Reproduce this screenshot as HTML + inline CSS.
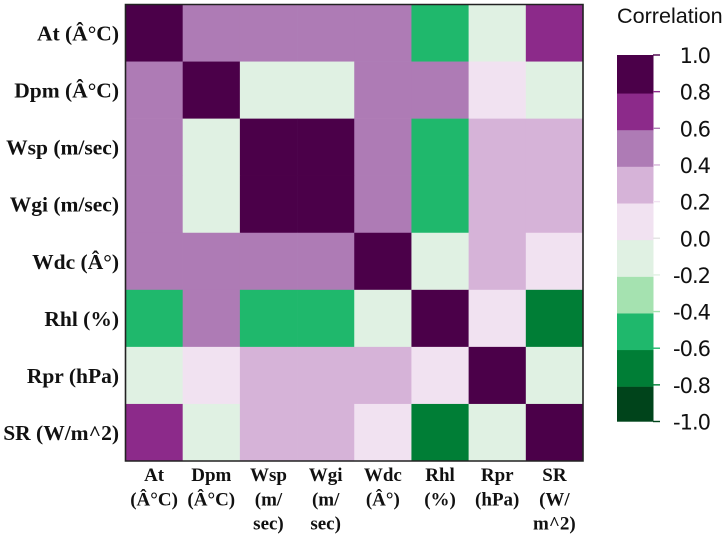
<!DOCTYPE html>
<html>
<head>
<meta charset="utf-8">
<title>Correlation heatmap</title>
<style>
html,body{margin:0;padding:0;background:#fff;width:726px;height:536px;overflow:hidden}
svg{display:block;filter:blur(.25px)}
.row-label{font:bold 21.5px "Liberation Serif",serif;fill:#111;text-anchor:end}
.col-label{font:bold 19px "Liberation Serif",serif;fill:#111;text-anchor:middle}
.bar-label{font:21px "DejaVu Sans","Liberation Sans",sans-serif;fill:#111;text-anchor:end;letter-spacing:-1px}
.bar-title{font:21.6px "Liberation Sans",sans-serif;fill:#111}
</style>
</head>
<body>
<svg id="chart" xmlns="http://www.w3.org/2000/svg" width="726" height="536" viewBox="0 0 726 536"></svg>
<script>
const rowLabels = ["At (Â°C)","Dpm (Â°C)","Wsp (m/sec)","Wgi (m/sec)","Wdc (Â°)","Rhl (%)","Rpr (hPa)","SR (W/m^2)"];
const colLabels = [["At","(Â°C)"],["Dpm","(Â°C)"],["Wsp","(m/","sec)"],["Wgi","(m/","sec)"],["Wdc","(Â°)"],["Rhl","(%)"],["Rpr","(hPa)"],["SR","(W/","m^2)"]];
const rowAt = [1,0.5,0.5,0.5,0.5,-0.5,-0.1,0.7];
const rowDpm = [0.5,1,-0.1,-0.1,0.5,0.5,0.1,-0.1];
const rowWsp = [0.5,-0.1,1,1,0.5,-0.5,0.3,0.3];
const rowWgi = [0.5,-0.1,1,1,0.5,-0.5,0.3,0.3];
const rowWdc = [0.5,0.5,0.5,0.5,1,-0.1,0.3,0.1];
const rowRhl = [-0.5,0.5,-0.5,-0.5,-0.1,1,0.1,-0.7];
const rowRpr = [-0.1,0.1,0.3,0.3,0.3,0.1,1,-0.1];
const rowSR = [0.7,-0.1,0.3,0.3,0.1,-0.7,-0.1,1];
const matrix = [rowAt,rowDpm,rowWsp,rowWgi,rowWdc,rowRhl,rowRpr,rowSR];
const binEdges = [-1,-0.8,-0.6,-0.4,-0.2,0,0.2,0.4,0.6,0.8,1];
const binColors = ["#00441b","#007e36","#1fb86c","#a5e2b0","#e0f1e3","#f1e2f1","#d6b3d8","#ae7bb5","#8c2a8a","#4b0049"];
const tickValues = [1,0.8,0.6,0.4,0.2,0,-0.2,-0.4,-0.6,-0.8,-1];
const tickLabels = ["1.0","0.8","0.6","0.4","0.2","0.0","-0.2","-0.4","-0.6","-0.8","-1.0"];

const NS = "http://www.w3.org/2000/svg";
const svg = document.getElementById("chart");
const L = 125.5, T = 4.5, R = 583, B = 461;
const cw = (R - L) / colLabels.length, ch = (B - T) / rowLabels.length;
const xCell = i => L + i * cw;
const yCell = i => T + i * ch;
const barTop = 55, barBottom = 421.5;
const segShift = 1.7;
const yBar = v => barTop + (1 - v) / 2 * (barBottom - barTop);
const ySeg = v => (v >= 1 || v <= -1) ? yBar(v) : yBar(v) + segShift;
function binIndex(v){
  for (let i = 0; i < binColors.length; i++) if (v <= binEdges[i + 1]) return i;
  return binColors.length - 1;
}
const colorFor = v => binColors[binIndex(v)];
function tickColor(v){
  if (v === 0) return "#e4e4e4";
  if (v >= 1 || v <= -1) return colorFor(v);
  return colorFor(v > 0 ? v - 0.1 : v + 0.1);
}
function mk(tag, attrs, parent){
  const e = document.createElementNS(NS, tag);
  for (const k in attrs) e.setAttribute(k, attrs[k]);
  (parent || svg).appendChild(e);
  return e;
}

matrix.forEach((row, r) => {
  row.forEach((v, c) => {
    const cell = mk("rect", {x: xCell(c), y: yCell(r), width: cw + 0.3, height: ch + 0.3, fill: colorFor(v)});
    
    
  });
});

const frame = mk("path", {d: `M${L} ${T}V${B}H${R}V${T}Z`, fill: "none", stroke: "#222", "stroke-width": 1.6});



rowLabels.forEach((t, r) => {
  const lab = mk("text", {x: 119, y: yCell(r) + ch / 2 + 7.5, class: "row-label"});
  lab.textContent = t;
  
  
});

colLabels.forEach((lines, c) => {
  lines.forEach((t, i) => {
    const lab = mk("text", {x: xCell(c) + cw / 2, y: 481 + i * 24.3, class: "col-label"});
    lab.textContent = t;
    
    
  });
});

const title = mk("text", {x: 617, y: 23, class: "bar-title"});
title.textContent = "Correlation";



binColors.forEach((col, i) => {
  const y0 = ySeg(binEdges[i + 1]), y1 = ySeg(binEdges[i]);
  const seg = mk("rect", {x: 617, y: y0, width: 36.5, height: y1 - y0 + 0.2, fill: col});
  
  
});

tickValues.forEach((v, i) => {
  const y = yBar(v);
  const tick = mk("line", {x1: 653, x2: 660, y1: y, y2: y, stroke: tickColor(v), "stroke-width": 1.4});
  
  
  const lab = mk("text", {x: 710, y: y + 8, class: "bar-label"});
  lab.textContent = tickLabels[i];
  
  
});
</script>
</body>
</html>
